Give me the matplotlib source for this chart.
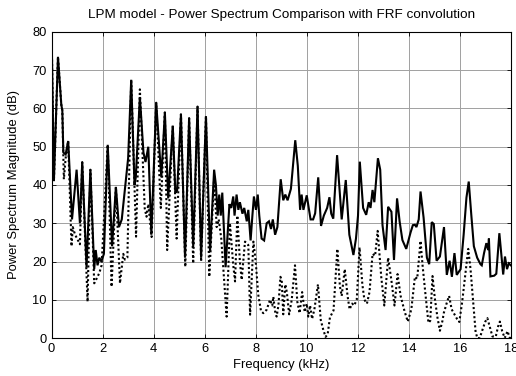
import matplotlib
matplotlib.use('Agg')
import matplotlib.pyplot as plt

# measured spectrum (solid) - frequency in kHz, magnitude in dB
freq_meas = [0.0, 0.09, 0.25, 0.38, 0.42, 0.46, 0.55, 0.65, 0.80, 0.98, 1.11, 1.20, 1.37, 1.52, 1.67,
             1.73, 1.80, 1.87, 1.95, 2.05, 2.20, 2.37, 2.52, 2.64, 2.75, 3.00, 3.12, 3.25, 3.30, 3.46,
             3.60, 3.68, 3.79, 3.91, 4.10, 4.30, 4.44, 4.57, 4.75, 4.85, 4.92, 5.07, 5.23, 5.39, 5.55,
             5.72, 5.86, 6.05, 6.21, 6.37, 6.44, 6.51, 6.57, 6.63, 6.69, 6.82, 6.97, 7.04, 7.12, 7.17,
             7.25, 7.32, 7.38, 7.48, 7.55, 7.65, 7.71, 7.80, 7.87, 7.93, 8.01, 8.08, 8.14, 8.23, 8.33,
             8.43, 8.52, 8.60, 8.67, 8.76, 8.85, 8.98, 9.08, 9.16, 9.25, 9.38, 9.55, 9.65, 9.74, 9.80,
             9.87, 10.00, 10.15, 10.25, 10.33, 10.45, 10.56, 10.67, 10.80, 10.89, 10.96, 11.04, 11.19,
             11.37, 11.53, 11.67, 11.83, 11.93, 12.01, 12.08, 12.21, 12.33, 12.43, 12.50, 12.58, 12.65,
             12.79, 12.88, 12.97, 13.09, 13.19, 13.32, 13.42, 13.54, 13.64, 13.75, 13.90, 14.07, 14.16,
             14.24, 14.30, 14.39, 14.46, 14.58, 14.71, 14.80, 14.90, 14.98, 15.09, 15.22, 15.38, 15.49,
             15.60, 15.69, 15.79, 15.88, 16.03, 16.15, 16.26, 16.35, 16.45, 16.55, 16.68, 16.81, 16.86,
             16.95, 17.04, 17.11, 17.14, 17.20, 17.35, 17.43, 17.55, 17.64, 17.70, 17.77, 17.85, 17.92,
             18.0]
db_meas = [80, 41, 73.5, 61, 59.5, 48.5, 48, 51.5, 31, 44, 30, 46, 18.5, 44, 18,
           23, 19, 21, 20, 22, 50.5, 24, 39.5, 29, 31, 47, 67.5, 40, 42, 63,
           48.5, 46, 50, 27, 61.5, 42, 59, 36.5, 55.5, 38, 38.5, 58.5, 21, 57.5, 24,
           60.5, 21, 58, 22.5, 44, 40, 32, 37.5, 32, 38, 18.5, 35, 34, 37, 32,
           37.5, 33.5, 35.5, 32.5, 34, 30.5, 33.5, 25.5, 32, 37, 33.5, 37.5, 32, 26, 25.5,
           30, 30.5, 28.5, 31, 27, 29, 41.5, 36, 37.5, 36, 39, 51.7, 45, 33.5, 37.5,
           33.5, 37.3, 31, 31, 32.6, 42, 29.3, 32, 34, 36.8, 32.5, 31.2, 47.8,
           31, 41.3, 27, 21.7, 26, 32, 46.1, 34, 32.2, 35.5, 34, 38.7, 35.5,
           47, 44, 29.5, 23, 34.3, 33, 20.4, 36.5, 30.5, 25.6, 23.3, 27.6, 29.5,
           29.6, 29, 31, 38.3, 31.5, 21, 19.3, 30.3, 29.8, 20.2, 21.3, 29, 16.5,
           20.2, 16, 22.2, 16.5, 18, 27, 36.7, 40.9, 32.2, 24, 21, 19.3, 19,
           22.2, 24.8, 23, 26, 16.1, 16.3, 16.8, 27.4, 21, 16.6, 21.3, 18, 19.5,
           19]

# model spectrum with FRF convolution (dotted)
freq_model = [0.0, 0.09, 0.25, 0.38, 0.42, 0.48, 0.55, 0.65, 0.78, 0.83, 0.92, 1.0, 1.11, 1.20, 1.41,
              1.52, 1.67, 1.77, 1.87, 1.96, 2.20, 2.35, 2.52, 2.68, 2.81, 2.87, 2.97, 3.12, 3.31, 3.46,
              3.65, 3.72, 3.79, 3.92, 4.10, 4.28, 4.44, 4.53, 4.75, 4.90, 5.07, 5.24, 5.39, 5.55, 5.72,
              5.86, 6.05, 6.18, 6.37, 6.47, 6.55, 6.65, 6.86, 6.99, 7.12, 7.19, 7.28, 7.38, 7.45, 7.58,
              7.71, 7.78, 7.91, 8.0, 8.10, 8.21, 8.30, 8.43, 8.56, 8.65, 8.69, 8.76, 8.82, 8.89, 8.97,
              9.02, 9.08, 9.16, 9.22, 9.31, 9.41, 9.54, 9.63, 9.72, 9.82, 9.92, 10.0, 10.06, 10.13,
              10.21, 10.30, 10.44, 10.55, 10.65, 10.74, 10.82, 10.91, 11.05, 11.20, 11.30, 11.37, 11.49,
              11.60, 11.68, 11.78, 11.86, 11.96, 12.07, 12.18, 12.26, 12.36, 12.46, 12.58, 12.68, 12.78,
              12.92, 13.04, 13.19, 13.32, 13.44, 13.56, 13.68, 13.83, 13.96, 14.10, 14.24, 14.33, 14.46,
              14.54, 14.66, 14.77, 14.84, 14.93, 15.02, 15.12, 15.22, 15.32, 15.37, 15.48, 15.58, 15.68,
              15.80, 15.89, 15.98, 16.09, 16.20, 16.33, 16.42, 16.52, 16.62, 16.69, 16.78, 16.91, 17.0,
              17.08, 17.17, 17.28, 17.41, 17.50, 17.57, 17.66, 17.76, 17.87, 17.96, 18.0]
db_model = [80, 41, 73.5, 61, 59.5, 41.5, 47, 51.5, 24, 29, 27, 26, 24.5, 46, 9.5,
            44, 14.3, 15.6, 17, 19, 50.5, 13.4, 39.5, 14.3, 22, 20.5, 21, 67.5, 26.5, 65,
            33.9, 31.7, 35, 26.4, 61.5, 34, 59, 23, 55.5, 26, 58.5, 18.6, 57.5, 19.5, 60.5,
            20, 58, 16, 42, 29, 31, 26, 5.6, 30, 19, 14.8, 32, 20, 15.2, 25.2,
            24.3, 6.1, 25.2, 20, 11.3, 7, 6.5, 7.4, 10, 8.5, 10.8, 7, 5.6, 8.5, 16,
            15, 6.2, 14, 12, 6.2, 9.9, 19, 9.5, 6.5, 12, 6.8, 9, 5.6, 8.5,
            5.0, 7.5, 14, 4.7, 2.1, 0.3, 1, 5.4, 7.2, 23.3, 13.5, 11, 18,
            11, 7.5, 9, 8.5, 10, 23.7, 14, 10, 9, 12, 22, 21.5, 28,
            16, 8.5, 21, 15, 8.5, 16.7, 11, 7.1, 4.3, 7.5, 16, 15.5, 25.4,
            19, 11, 4, 4.5, 16.2, 10.4, 5.5, 1.9, 4.5, 6.5, 9, 11, 7.5,
            6.1, 5, 4.2, 9.3, 15.8, 23.3, 18, 9.6, 1.5, 0, 0, 2.6, 4.3,
            5.2, 3, 0.4, 0.4, 3, 4.3, 1.8, 0, 1.8, 0, 0.3]

plt.rcParams['font.family'] = ['Liberation Sans', 'DejaVu Sans']

fig = plt.figure(figsize=(5.16, 3.76), dpi=100)
ax = fig.add_axes([0.100, 0.101, 0.890, 0.814])

ax.plot(freq_meas, db_meas, color='black', lw=1.5, solid_joinstyle='miter')
ax.plot(freq_model, db_model, color='black', lw=1.5, linestyle=(0, (1, 1.2)))

ax.set_xlim(0, 18)
ax.set_ylim(0, 80)
ax.set_xticks(range(0, 19, 2))
ax.set_yticks(range(0, 81, 10))
ax.grid(True, color='#a0a0a0', lw=0.7, linestyle='-')
ax.set_axisbelow(True)
ax.tick_params(direction='in', top=True, right=True, length=3, labelsize=9.3, width=0.6)
for s in ax.spines.values():
    s.set_linewidth(0.8)

ax.set_title('LPM model - Power Spectrum Comparison with FRF convolution', fontsize=9.7, pad=10)
ax.set_xlabel('Frequency (kHz)', fontsize=9.4, labelpad=3)
ax.set_ylabel('Power Spectrum Magnitude (dB)', fontsize=9.4, labelpad=9)

fig.savefig('out.png', dpi=100)
